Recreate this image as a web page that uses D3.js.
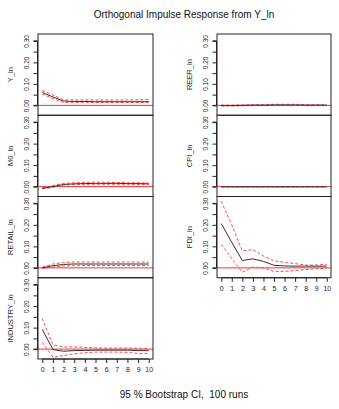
<!DOCTYPE html>
<html><head><meta charset="utf-8">
<script src="https://cdn.jsdelivr.net/npm/d3@7"></script>
<style>body{margin:0;background:#fff}svg{display:block}text{font-family:"Liberation Sans",Arial,sans-serif}</style>
</head><body><div id="chart"></div>
<script>
const steps = [0,1,2,3,4,5,6,7,8,9,10];
const yTicks = [0,0.05,0.10,0.15,0.20,0.25,0.30];
const yTickLabels = ["0.00","","0.10","","0.20","","0.30"];
const title = "Orthogonal Impulse Response from Y_ln";
const footer = "95 % Bootstrap CI,  100 runs";

const panelNames = ["Y_ln","M0_ln","RETAIL_ln","INDUSTRY_ln","REER_ln","CPI_ln","FDI_ln"];

const irfY  = [0.060,0.039,0.020,0.018,0.018,0.017,0.017,0.017,0.017,0.017,0.017];
const upY   = [0.069,0.048,0.026,0.025,0.025,0.025,0.025,0.025,0.025,0.026,0.027];
const loY   = [0.053,0.031,0.014,0.014,0.014,0.013,0.013,0.013,0.013,0.013,0.013];

const irfM0 = [-0.008,0.000,0.010,0.013,0.014,0.015,0.015,0.015,0.014,0.014,0.013];
const upM0  = [-0.005,0.005,0.015,0.018,0.019,0.021,0.020,0.019,0.018,0.018,0.017];
const loM0  = [-0.011,-0.003,0.007,0.010,0.011,0.011,0.011,0.011,0.011,0.010,0.010];

const irfRT = [0.000,0.010,0.016,0.018,0.018,0.018,0.018,0.018,0.018,0.018,0.018];
const upRT  = [0.003,0.018,0.025,0.027,0.027,0.027,0.027,0.027,0.027,0.027,0.027];
const loRT  = [-0.002,0.004,0.009,0.010,0.011,0.011,0.011,0.011,0.011,0.011,0.011];

const irfIN = [0.092,-0.002,-0.010,-0.007,-0.006,-0.005,-0.005,-0.005,-0.005,-0.007,-0.007];
const upIN  = [0.143,0.020,0.010,0.010,0.008,0.006,0.005,0.005,0.005,0.004,0.003];
const loIN  = [0.031,-0.037,-0.030,-0.022,-0.017,-0.014,-0.014,-0.014,-0.015,-0.020,-0.020];

const irfRE = [-0.001,-0.001,0.000,0.001,0.001,0.002,0.002,0.002,0.001,0.001,0.001];
const upRE  = [0.001,0.001,0.002,0.003,0.004,0.005,0.005,0.005,0.003,0.003,0.003];
const loRE  = [-0.003,-0.003,-0.002,-0.001,-0.001,-0.001,-0.001,-0.001,-0.001,-0.001,-0.001];

const irfCP = [-0.001,-0.001,-0.001,-0.001,-0.001,-0.001,-0.001,-0.001,-0.001,-0.001,-0.001];
const upCP  = [0.000,0.000,0.000,0.000,0.000,0.000,0.000,0.000,0.001,0.001,0.001];
const loCP  = [-0.002,-0.002,-0.002,-0.002,-0.002,-0.002,-0.002,-0.002,-0.002,-0.002,-0.002];

const irfFD = [0.206,0.119,0.034,0.042,0.030,0.012,0.009,0.008,0.008,0.008,0.008];
const upFD  = [0.310,0.200,0.079,0.085,0.055,0.033,0.025,0.020,0.013,0.013,0.017];
const loFD  = [0.109,0.044,-0.020,0.004,0.000,-0.017,-0.016,-0.013,-0.008,-0.004,-0.003];

const yDomain = [-0.046, 0.332];

const panels = [
  {name:panelNames[0], irf:irfY,  up:upY,  lo:loY,  col:0,row:0},
  {name:panelNames[1], irf:irfM0, up:upM0, lo:loM0, col:0,row:1},
  {name:panelNames[2], irf:irfRT, up:upRT, lo:loRT, col:0,row:2},
  {name:panelNames[3], irf:irfIN, up:upIN, lo:loIN, col:0,row:3},
  {name:panelNames[4], irf:irfRE, up:upRE, lo:loRE, col:1,row:0},
  {name:panelNames[5], irf:irfCP, up:upCP, lo:loCP, col:1,row:1},
  {name:panelNames[6], irf:irfFD, up:upFD, lo:loFD, col:1,row:2}
];

const W = 339, H = 409;
const svg = d3.select("#chart").append("svg").attr("width",W).attr("height",H);

const colX = [{l:38,r:153},{l:217,r:331}];
const top0 = 34, ph = 81.25;
const lastRow = [3,2];

svg.append("text").attr("x",184).attr("y",18).attr("text-anchor","middle")
  .attr("font-size",10).attr("fill","#111").text(title);
svg.append("text").attr("x",184).attr("y",398).attr("text-anchor","middle")
  .attr("font-size",10).attr("fill","#111").style("white-space","pre").text(footer);

panels.forEach(p => {
  const c = colX[p.col];
  const t = top0 + p.row*ph, b = t + ph;
  const x = d3.scaleLinear().domain([-0.4,10.4]).range([c.l,c.r]);
  const y = d3.scaleLinear().domain(yDomain).range([b,t]);
  const g = svg.append("g");

  const ya = g.append("g").attr("transform",`translate(${c.l-0.5},0)`)
    .call(d3.axisLeft(y).tickValues(yTicks).tickSize(4).tickPadding(6)
      .tickFormat((d,i)=>yTickLabels[i]));
  ya.select(".domain").attr("d",`M-4,${y(0)}H0V${y(0.30)}H-4`).attr("stroke","#222");
  ya.selectAll(".tick line").attr("stroke","#222");
  ya.selectAll(".tick text").attr("font-size",6.5).attr("fill","#222")
    .attr("font-family","Liberation Sans, Arial, sans-serif")
    .attr("transform","rotate(-90)").attr("text-anchor","middle")
    .attr("x",0).attr("dy",null).attr("y",-9);

  g.append("text").attr("transform",`translate(${c.l-25},${(t+b)/2}) rotate(-90)`)
    .attr("text-anchor","middle").attr("font-size",7.5).attr("fill","#222").text(p.name);

  g.append("line").attr("x1",c.l).attr("x2",c.r).attr("y1",y(0)).attr("y2",y(0))
    .attr("stroke","#ff3030").attr("stroke-width",1);

  const line = d3.line().x((d,i)=>x(steps[i])).y(d=>y(d));
  g.append("path").attr("d",line(p.up)).attr("fill","none").attr("stroke","#ff4848")
    .attr("stroke-width",1).attr("stroke-dasharray","3,2");
  g.append("path").attr("d",line(p.lo)).attr("fill","none").attr("stroke","#ff4848")
    .attr("stroke-width",1).attr("stroke-dasharray","3,2");
  g.append("path").attr("d",line(p.irf)).attr("fill","none").attr("stroke","#333")
    .attr("stroke-width",1);

  g.append("rect").attr("x",c.l).attr("y",t).attr("width",c.r-c.l).attr("height",ph)
    .attr("fill","none").attr("stroke","#222").attr("stroke-width",1);

  if (p.row === lastRow[p.col]) {
    const xa = g.append("g").attr("transform",`translate(0,${b})`)
      .call(d3.axisBottom(x).tickValues(steps).tickSize(4).tickPadding(4).tickFormat(d3.format("d")));
    xa.select(".domain").attr("d",`M${x(0)},0H${x(10)}`).attr("stroke","#222");
    xa.selectAll(".tick line").attr("stroke","#222");
    xa.selectAll(".tick text").attr("font-size",7).attr("fill","#222")
      .attr("font-family","Liberation Sans, Arial, sans-serif");
  }
});
</script></body></html>
